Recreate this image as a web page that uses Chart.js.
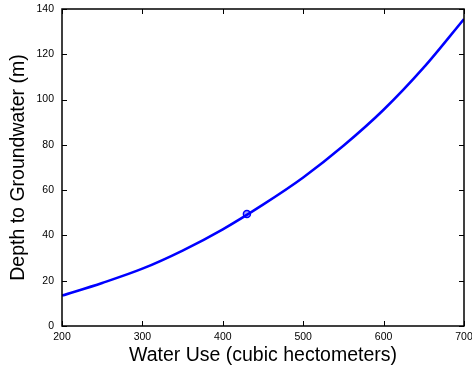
<!DOCTYPE html>
<html>
<head>
<meta charset="utf-8">
<script src="https://cdn.jsdelivr.net/npm/chart.js@4/dist/chart.umd.min.js"></script>
<style>
    html, body { margin: 0; padding: 0; background: #fff; }
    #wrap { position: relative; width: 472px; height: 369px; }
</style>
</head>
<body>
<div id="wrap"><canvas id="chart"></canvas></div>
<script>
// Water use vs depth to groundwater
const waterUse = [200, 250, 300, 350, 400, 450, 500, 550, 600, 650, 700];
const depth = [13.4, 19.0, 25.3, 33.3, 42.7, 53.6, 65.6, 79.6, 95.5, 114.2, 135.6];

// highlighted point
const markX = [430];
const markY = [49.5];

const xTicks = [200, 300, 400, 500, 600, 700];
const yTicks = [0, 20, 40, 60, 80, 100, 120, 140];

const FONT = 'Liberation Sans, Arial, sans-serif';

// box around the plot + inward tick marks on all four sides
const frame = {
    id: 'frame',
    afterDatasetsDraw(chart) {
        const { ctx, chartArea: a, scales: { x, y } } = chart;
        const len = 5;
        ctx.save();
        ctx.strokeStyle = '#000';
        ctx.lineWidth = 1;
        ctx.beginPath();
        xTicks.forEach(v => {
            const px = Math.round(x.getPixelForValue(v)) + 0.5;
            ctx.moveTo(px, a.bottom); ctx.lineTo(px, a.bottom - len);
            ctx.moveTo(px, a.top); ctx.lineTo(px, a.top + len);
        });
        yTicks.forEach(v => {
            const py = Math.round(y.getPixelForValue(v)) + 0.5;
            ctx.moveTo(a.left, py); ctx.lineTo(a.left + len, py);
            ctx.moveTo(a.right, py); ctx.lineTo(a.right - len, py);
        });
        ctx.stroke();
        ctx.lineWidth = 1.5;
        ctx.strokeRect(a.left, a.top, a.right - a.left, a.bottom - a.top);
        ctx.restore();
    }
};

new Chart(document.getElementById('chart'), {
    type: 'line',
    data: {
        datasets: [{
            data: waterUse.map((v, i) => ({ x: v, y: depth[i] })),
            borderColor: '#0000ff',
            borderWidth: 2.5,
            pointRadius: 0,
            cubicInterpolationMode: 'monotone',
            fill: false
        }, {
            data: markX.map((v, i) => ({ x: v, y: markY[i] })),
            showLine: false,
            pointStyle: 'circle',
            pointRadius: 3.5,
            pointBorderWidth: 1.5,
            pointBorderColor: '#0000ff',
            pointBackgroundColor: 'rgba(60,60,255,0.45)'
        }]
    },
    options: {
        responsive: true,
        maintainAspectRatio: false,
        animation: false,
        layout: { padding: { top: 9, right: 8, left: 0, bottom: 0 } },
        plugins: { legend: { display: false }, tooltip: { enabled: false } },
        scales: {
            x: {
                type: 'linear',
                min: 200,
                max: 700,
                afterBuildTicks: s => { s.ticks = xTicks.map(v => ({ value: v })); },
                afterFit: s => { s.height = 43; s.paddingLeft = 0; s.paddingRight = 0; },
                grid: { display: false, drawTicks: false },
                border: { display: false },
                ticks: {
                    color: '#000',
                    font: { size: 10.5, family: FONT },
                    padding: 5,
                    maxRotation: 0,
                    autoSkip: false
                },
                title: {
                    display: true,
                    text: 'Water Use (cubic hectometers)',
                    color: '#000',
                    font: { size: 19.5, family: FONT },
                    padding: { top: 0, bottom: 2 }
                }
            },
            y: {
                min: 0,
                max: 140,
                afterBuildTicks: s => { s.ticks = yTicks.map(v => ({ value: v })); },
                afterFit: s => { s.width = 62; s.paddingTop = 0; s.paddingBottom = 0; },
                grid: { display: false, drawTicks: false },
                border: { display: false },
                ticks: {
                    color: '#000',
                    font: { size: 10.5, family: FONT },
                    padding: 8
                },
                title: {
                    display: true,
                    text: 'Depth to Groundwater (m)',
                    color: '#000',
                    font: { size: 19.5, family: FONT },
                    padding: { top: 7, bottom: 0 }
                }
            }
        }
    },
    plugins: [frame]
});
</script>
</body>
</html>
